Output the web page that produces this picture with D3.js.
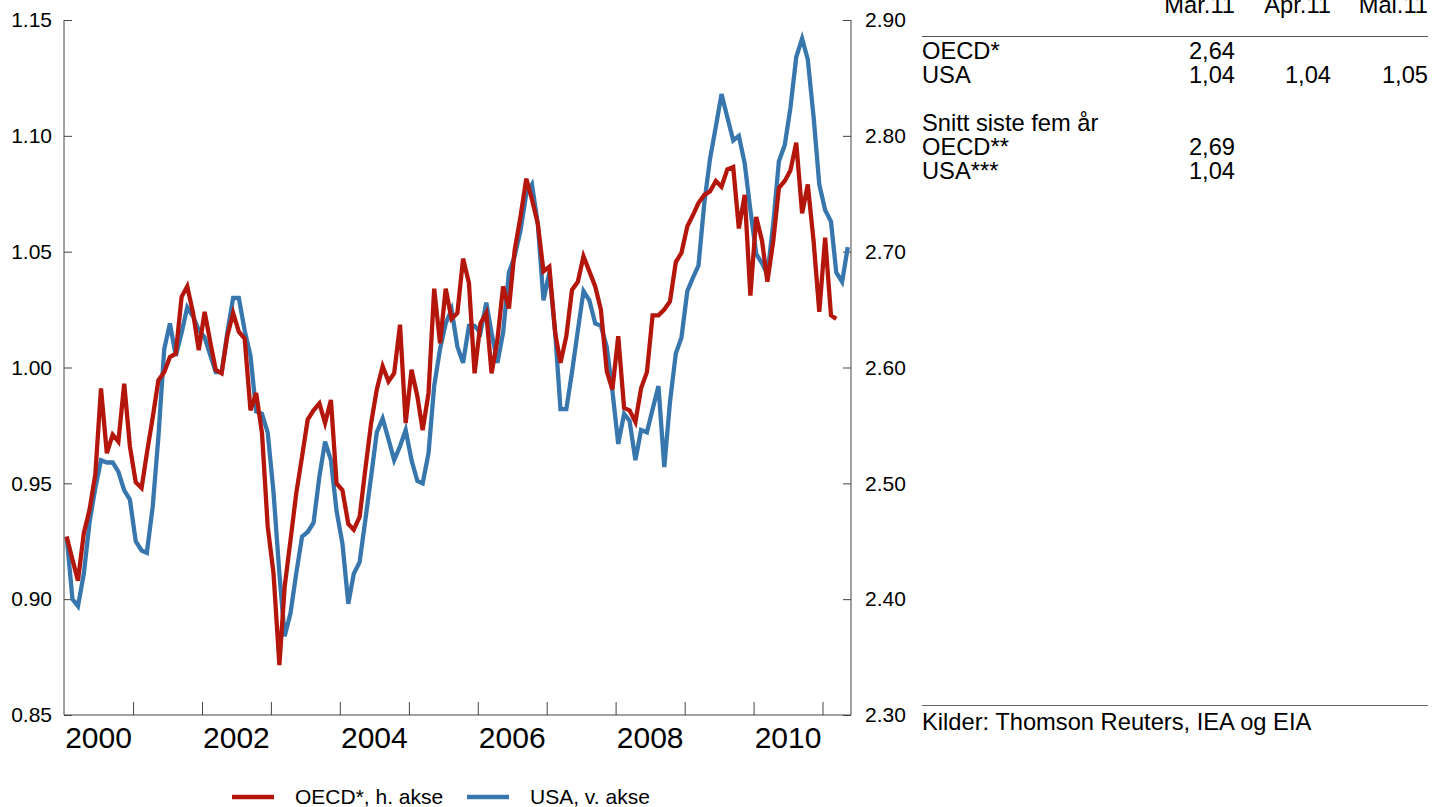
<!DOCTYPE html>
<html>
<head>
<meta charset="utf-8">
<script src="https://cdn.jsdelivr.net/npm/d3@7"></script>
<style>
  html, body { margin: 0; padding: 0; background: #fff; }
  svg { display: block; font-family: "Liberation Sans", Arial, sans-serif; }
</style>
</head>
<body>
<svg id="chart" width="1442" height="807"></svg>
<script>
// ---- DATA ----
const startYear = 2000; // monthly observations starting January 2000
// USA (left axis), Jan 2000 - May 2011
const usaValues = [
  0.927, 0.900, 0.897, 0.911, 0.933, 0.948, 0.960, 0.959, 0.959, 0.955, 0.947, 0.943,
  0.925, 0.921, 0.920, 0.940, 0.970, 1.008, 1.019, 1.005, 1.015, 1.026, 1.022, 1.016,
  1.013, 1.005, 0.998, 0.998, 1.015, 1.030, 1.030, 1.016, 1.005, 0.981, 0.980, 0.972,
  0.946, 0.911, 0.884, 0.894, 0.911, 0.927, 0.929, 0.933, 0.953, 0.968, 0.960, 0.938,
  0.924, 0.898, 0.911, 0.916, 0.934, 0.953, 0.972, 0.978, 0.969, 0.960, 0.966, 0.973,
  0.960, 0.951, 0.950, 0.963, 0.992, 1.008, 1.019, 1.025, 1.009, 1.002, 1.018, 1.018,
  1.015, 1.028, 1.015, 1.002, 1.015, 1.041, 1.048, 1.059, 1.075, 1.079, 1.062, 1.029,
  1.041, 1.015, 0.982, 0.982, 0.998, 1.016, 1.033, 1.029, 1.019, 1.018, 1.009, 0.990,
  0.967, 0.980, 0.977, 0.960, 0.973, 0.972, 0.982, 0.992, 0.957, 0.985, 1.006, 1.013,
  1.033, 1.039, 1.044, 1.071, 1.090, 1.104, 1.118, 1.108, 1.098, 1.100, 1.088, 1.068,
  1.049, 1.045, 1.040, 1.062, 1.089, 1.096, 1.112, 1.134, 1.142, 1.133, 1.108, 1.079,
  1.068, 1.063, 1.041, 1.037, 1.052
];
// OECD (right axis), Jan 2000 - Mar 2011
const oecdValues = [
  2.454, 2.434, 2.416, 2.457, 2.477, 2.508, 2.582, 2.526, 2.542, 2.536, 2.586, 2.532,
  2.501, 2.496, 2.526, 2.557, 2.589, 2.596, 2.609, 2.612, 2.661, 2.670, 2.647, 2.615,
  2.648, 2.621, 2.598, 2.595, 2.627, 2.647, 2.631, 2.625, 2.563, 2.578, 2.543, 2.463,
  2.422, 2.343, 2.411, 2.451, 2.491, 2.523, 2.555, 2.563, 2.569, 2.552, 2.572, 2.500,
  2.494, 2.465, 2.460, 2.471, 2.512, 2.552, 2.581, 2.601, 2.588, 2.595, 2.637, 2.552,
  2.598, 2.575, 2.546, 2.578, 2.668, 2.621, 2.668, 2.642, 2.647, 2.694, 2.673, 2.595,
  2.638, 2.647, 2.595, 2.624, 2.670, 2.651, 2.701, 2.730, 2.763, 2.745, 2.724, 2.683,
  2.687, 2.630, 2.604, 2.627, 2.667, 2.674, 2.696, 2.683, 2.670, 2.650, 2.597, 2.581,
  2.627, 2.565, 2.563, 2.553, 2.582, 2.596, 2.645, 2.645, 2.650, 2.657, 2.691, 2.699,
  2.722, 2.732, 2.742, 2.749, 2.752, 2.761, 2.756, 2.771, 2.773, 2.720, 2.749, 2.662,
  2.730, 2.709, 2.674, 2.709, 2.755, 2.761, 2.770, 2.794, 2.733, 2.758, 2.709, 2.648,
  2.712, 2.645, 2.642
];
const leftTicks = [0.85, 0.90, 0.95, 1.00, 1.05, 1.10, 1.15];
const rightTicks = [2.30, 2.40, 2.50, 2.60, 2.70, 2.80, 2.90];
const yearTicks = [2001, 2002, 2003, 2004, 2005, 2006, 2007, 2008, 2009, 2010, 2011];
const yearLabels = [2000, 2002, 2004, 2006, 2008, 2010];
const legendLabels = ["OECD*, h. akse", "USA, v. akse"];
const tableHeader = ["Mar.11", "Apr.11", "Mai.11"];
const tableLabels = ["OECD*", "USA", "Snitt siste fem år", "OECD**", "USA***"];
const tableValues = [["2,64", "", ""], ["1,04", "1,04", "1,05"], ["", "", ""], ["2,69", "", ""], ["1,04", "", ""]];
const sourceText = "Kilder: Thomson Reuters, IEA og EIA";

// ---- LAYOUT ----
const svg = d3.select("#chart");
const L = 64, R = 851, T = 20, B = 715;
const red = "#b5160b", blue = "#3877ad", axisCol = "#444";

const x = d3.scaleTime()
  .domain([new Date(2000, 0, 1), new Date(2011, 5, 1)])
  .range([L, R]);
const yL = d3.scaleLinear().domain([0.85, 1.15]).range([B, T]);
const yR = d3.scaleLinear().domain([2.30, 2.90]).range([B, T]);

const dateOf = i => new Date(startYear, i, 15);
const usaData = usaValues.map((v, i) => ({ d: dateOf(i), v }));
const oecdData = oecdValues.map((v, i) => ({ d: dateOf(i), v }));

// left axis
const leftAxis = d3.axisLeft(yL).tickValues(leftTicks).tickSize(-8).tickPadding(12).tickFormat(d3.format(".2f"));
const gl = svg.append("g").attr("transform", `translate(${L},0)`).call(leftAxis);
// right axis
const rightAxis = d3.axisRight(yR).tickValues(rightTicks).tickSize(-8).tickPadding(14).tickFormat(d3.format(".2f"));
const gr = svg.append("g").attr("transform", `translate(${R},0)`).call(rightAxis);
[gl, gr].forEach(g => {
  g.select(".domain").remove();
  g.selectAll(".tick line").attr("stroke", axisCol);
  g.selectAll(".tick text").attr("font-size", 21).attr("fill", "#000")
    .attr("font-family", "Liberation Sans, Arial, sans-serif");
});
svg.append("line").attr("x1", L).attr("x2", L).attr("y1", T).attr("y2", B).attr("stroke", axisCol);
svg.append("line").attr("x1", R).attr("x2", R).attr("y1", T).attr("y2", B).attr("stroke", axisCol);

// bottom axis
const bottomAxis = d3.axisBottom(x).tickValues(yearTicks.map(y => new Date(y, 0, 1))).tickSize(-13).tickFormat("");
const gb = svg.append("g").attr("transform", `translate(0,${B})`).call(bottomAxis);
gb.select(".domain").remove();
gb.selectAll(".tick line").attr("stroke", axisCol);
svg.append("line").attr("x1", L).attr("x2", R).attr("y1", B).attr("y2", B).attr("stroke", axisCol);

svg.append("g").selectAll("text").data(yearLabels).join("text")
  .attr("x", d => (x(new Date(d, 0, 1)) + x(new Date(d + 1, 0, 1))) / 2)
  .attr("y", 748)
  .attr("text-anchor", "middle")
  .attr("font-size", 30)
  .text(d => d);

// Lines
const lineUSA = d3.line().x(d => x(d.d)).y(d => yL(d.v));
const lineOECD = d3.line().x(d => x(d.d)).y(d => yR(d.v));
svg.append("path").datum(usaData).attr("d", lineUSA)
  .attr("fill", "none").attr("stroke", blue).attr("stroke-width", 4.3).attr("stroke-linejoin", "miter").attr("stroke-miterlimit", 4);
svg.append("path").datum(oecdData).attr("d", lineOECD)
  .attr("fill", "none").attr("stroke", red).attr("stroke-width", 4.3).attr("stroke-linejoin", "miter").attr("stroke-miterlimit", 4);

// Legend
const legend = svg.append("g");
const legendItems = [{ label: legendLabels[0], color: red, x: 232 }, { label: legendLabels[1], color: blue, x: 467 }];
legendItems.forEach(it => {
  legend.append("line").attr("x1", it.x).attr("x2", it.x + 42).attr("y1", 797).attr("y2", 797)
    .attr("stroke", it.color).attr("stroke-width", 4.5);
  legend.append("text").attr("x", it.x + 63).attr("y", 804).attr("font-size", 21).text(it.label);
});

// Table
const tbl = svg.append("g");
const tX = 922, tR = 1428, colRight = [1235, 1331, 1428];
const fs = 23.7;
tbl.selectAll("text.h").data(tableHeader).join("text").attr("class", "h")
  .attr("x", (d, i) => colRight[i]).attr("y", 13).attr("text-anchor", "end").attr("font-size", fs).text(d => d);
tbl.append("line").attr("x1", tX).attr("x2", tR).attr("y1", 36.5).attr("y2", 36.5).attr("stroke", "#555").attr("stroke-width", 1.2);
const rowY = [59, 83, 131, 155, 179];
tableLabels.forEach((lab, r) => {
  tbl.append("text").attr("x", tX).attr("y", rowY[r]).attr("font-size", fs).text(lab);
  tableValues[r].forEach((v, c) => {
    if (v) tbl.append("text").attr("x", colRight[c]).attr("y", rowY[r]).attr("text-anchor", "end").attr("font-size", fs).text(v);
  });
});
tbl.append("line").attr("x1", tX).attr("x2", tR).attr("y1", 705.5).attr("y2", 705.5).attr("stroke", "#666").attr("stroke-width", 1.2);
tbl.append("text").attr("x", tX).attr("y", 730).attr("font-size", fs).text(sourceText);
</script>
</body>
</html>
